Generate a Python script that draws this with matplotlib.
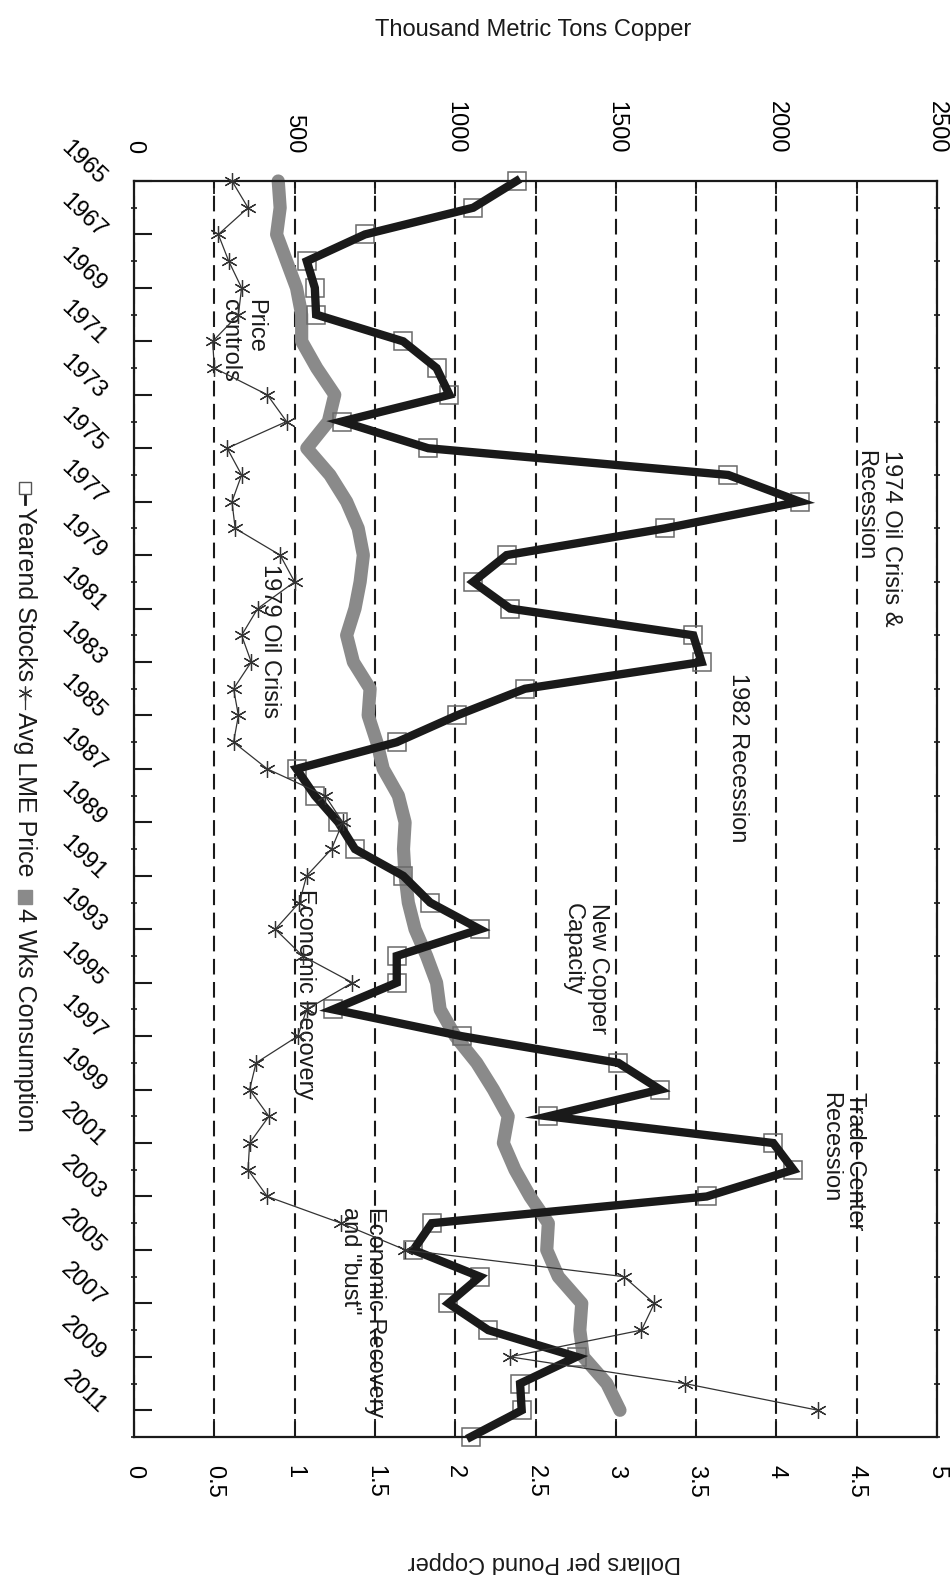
import numpy as np
import matplotlib.pyplot as plt
from matplotlib.lines import Line2D

plt.rcParams['font.family'] = ['Liberation Sans', 'DejaVu Sans']

# Yearend stocks, thousand metric tons (1965-2012)
stock_years = list(range(1965, 2013))
yearend_stocks = [1191, 1056, 719, 538, 563, 567, 838, 942, 982, 647,
                  916, 1850, 2073, 1653, 1160, 1056, 1171, 1741, 1767, 1217,
                  1005, 818, 506, 563, 636, 688, 838, 922, 1077, 818,
                  818, 620, 1020, 1508, 1638, 1290, 1990, 2053, 1783, 927,
                  870, 1077, 979, 1103, 1378, 1202, 1207, 1048]

# Average LME price, dollars per pound (1965-2011)
price_years = list(range(1965, 2012))
lme_price = [0.61, 0.71, 0.525, 0.59, 0.67, 0.65, 0.49, 0.50, 0.83, 0.95,
             0.58, 0.67, 0.61, 0.63, 0.91, 1.00, 0.77, 0.67, 0.73, 0.62,
             0.65, 0.62, 0.83, 1.19, 1.30, 1.23, 1.075, 1.03, 0.88, 1.05,
             1.36, 1.075, 1.02, 0.76, 0.72, 0.84, 0.72, 0.71, 0.83, 1.29,
             1.69, 3.05, 3.24, 3.16, 2.34, 3.43, 4.26]

# Four weeks of consumption, thousand metric tons (1965-2011)
cons_years = list(range(1965, 2012))
four_wks_cons = [449, 455, 444, 475, 506, 522, 522, 569, 625, 605,
                 538, 610, 662, 698, 714, 704, 688, 662, 683, 735,
                 729, 756, 776, 823, 844, 839, 844, 854, 875, 911,
                 942, 953, 1000, 1067, 1119, 1165, 1150, 1186, 1233, 1290,
                 1285, 1321, 1394, 1388, 1399, 1472, 1513]

# event notes: (text, tons position, year where the note starts)
notes = [
    ("1974 Oil Crisis &\nRecession", 2316, 1975.05),
    ("1982 Recession", 1880, 1983.4),
    ("New Copper\nCapacity", 1404, 1992.0),
    ("Trade Center\nRecession", 2206, 1999.1),
    ("Economic Recovery\nand \"bust\"", 711, 2003.4),
    ("Price\ncontrols", 339, 1969.4),
    ("1979 Oil Crisis", 423, 1979.35),
    ("Economic Recovery", 532, 1991.5),
]

W, H = 952, 1583
fig = plt.figure(figsize=(W / 100, H / 100), dpi=100)
ax = fig.add_axes([134 / W, 1 - 1437 / H, (937 - 134) / W, (1437 - 181) / H])
axd = ax.twiny()   # dollars axis, shares the year axis

FS = 17
INK = '#1a1a1a'

# tons axis on top, years running downwards
ax.set_xlim(0, 2500)
ax.set_ylim(2012, 1965)
ax.xaxis.tick_top()
ax.set_xticks(np.arange(0, 2501, 500))
ax.set_xticks(np.arange(250, 2500, 500), minor=True)
ax.tick_params(axis='x', which='both', direction='in', length=9, width=1.3,
               top=True, bottom=False, labeltop=True, labelbottom=False,
               labelsize=FS, pad=20, labelrotation=-90, color=INK)
ax.grid(axis='x', which='both', color=INK, linewidth=1.5,
        linestyle=(0, (7.5, 3.6)))

ax.set_yticks(range(1965, 2012, 2))
ax.set_yticks(range(1965, 2013), minor=True)
ax.set_yticklabels([str(y) for y in range(1965, 2012, 2)])
ax.tick_params(axis='y', which='major', direction='in', length=13, width=1.5,
               left=True, right=False, labelsize=FS, pad=23, color=INK)
ax.tick_params(axis='y', which='minor', direction='inout', length=4, width=1.2,
               left=True, right=True, color=INK)
plt.setp(ax.get_yticklabels(), rotation=-44, ha='right', va='center',
         rotation_mode='anchor')
for s in ax.spines.values():
    s.set_linewidth(1.6)
    s.set_color(INK)

# dollars axis on the bottom
axd.set_xlim(0, 5)
axd.xaxis.tick_bottom()
dollar_ticks = np.arange(0, 5.01, 0.5)
axd.set_xticks(dollar_ticks)
axd.set_xticklabels(['{:g}'.format(v) for v in dollar_ticks])
axd.tick_params(axis='x', direction='in', length=13, width=1.3,
                top=False, bottom=True, labeltop=False, labelbottom=True,
                labelsize=FS, pad=20, labelrotation=-90, color=INK)
for s in axd.spines.values():
    s.set_visible(False)

# series
ax.plot(four_wks_cons, cons_years, color='#8a8a8a', lw=9.5,
        solid_capstyle='round', solid_joinstyle='round', zorder=2, clip_on=False)
ax.plot(yearend_stocks, stock_years, ls='none', marker='s', ms=13,
        mfc='none', mec='#6a6a6a', mew=1.1, zorder=2.5, clip_on=False)
ax.plot(yearend_stocks, stock_years, color=INK, lw=6,
        solid_joinstyle='miter', zorder=3, clip_on=False)
axd.plot(lme_price, price_years, color='#333333', lw=0.9, marker=(6, 2, 0),
         ms=12, mew=0.9, mec='#333333', zorder=4, clip_on=False)

for txt, xt, yr in notes:
    ax.text(xt, yr, txt, rotation=-90, ha='center', va='top',
            multialignment='left', fontsize=FS, color=INK, zorder=5)

# axis titles
fig.text(533 / W, 1 - 30 / H, 'Thousand Metric Tons Copper', ha='center',
         va='center', fontsize=FS, color=INK)
fig.text(544 / W, 1 - 1562 / H, 'Dollars per Pound Copper', ha='center',
         va='center', fontsize=FS, color=INK, rotation=180)

# legend, laid out top to bottom along the left edge
renderer = fig.canvas.get_renderer()
lx = 25 / W
ypos = 1 - 488 / H
entries = [
    ('Yearend Stocks', dict(color=INK, lw=2, marker='s', ms=9, mfc='white',
                            mec='#555555', mew=1)),
    ('Avg LME Price', dict(color='#333333', lw=0.9, marker=(6, 2, 0), ms=10,
                           mew=0.9)),
    ('4 Wks Consumption', dict(color='#8a8a8a', lw=0, marker='s', ms=10,
                               mec='#8a8a8a')),
]
for label, style in entries:
    sym_h = 16 / H
    if style.get('lw', 0):
        sym = Line2D([lx, lx], [ypos, ypos - sym_h], transform=fig.transFigure,
                     markevery=[0], **style)
    else:
        sym = Line2D([lx], [ypos - sym_h / 2], transform=fig.transFigure,
                     **style)
    fig.add_artist(sym)
    ypos -= sym_h + 3 / H
    t = fig.text(lx, ypos, label, rotation=-90, ha='center', va='top',
                 fontsize=18, color=INK)
    bb = t.get_window_extent(renderer)
    ypos -= bb.height / H + 12 / H

fig.savefig('out.png', dpi=100)
